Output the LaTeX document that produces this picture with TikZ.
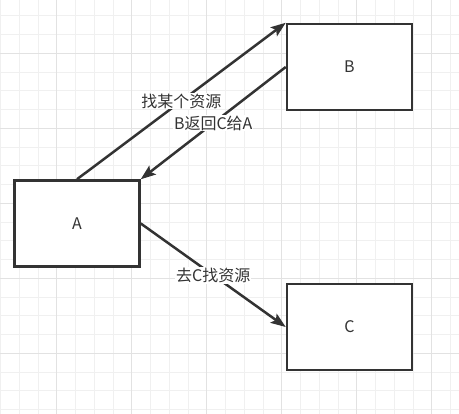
\documentclass[tikz,border=0pt]{standalone}
\usepackage{fontspec}
\setmainfont{Noto Sans CJK SC}
\usetikzlibrary{arrows.meta}
\definecolor{ink}{HTML}{333333}
\definecolor{minorgrid}{HTML}{F0F0F0}
\definecolor{majorgrid}{HTML}{E2E2E2}
\tikzset{
    box/.style={draw=ink, line width=2.5pt, fill=white, minimum width=125pt, minimum height=86pt, text=ink, font=\fontsize{16}{19}\selectfont},
    link/.style={draw=ink, line width=2.5pt, -{Stealth[length=15pt,width=11pt,inset=3pt]}},
    lbl/.style={fill=white, text=ink, inner sep=1pt, font=\fontsize{16}{19}\selectfont}
}
\begin{document}
\begin{tikzpicture}[x=1pt,y=-1pt]
        \useasboundingbox (0,0) rectangle (459,414);
        % background grid
        \begin{scope}[line width=1pt]
            \foreach \k in {0,...,24} {
                \pgfmathsetmacro{\gx}{0.5+18.75*\k}
                \draw[minorgrid] (\gx,0) -- (\gx,414);
            }
            \foreach \k in {0,...,22} {
                \pgfmathsetmacro{\gy}{-2.9+18.75*\k}
                \draw[minorgrid] (0,\gy) -- (459,\gy);
            }
            \foreach \k in {3,7,...,23} {
                \pgfmathsetmacro{\gx}{0.5+18.75*\k}
                \draw[majorgrid] (\gx,0) -- (\gx,414);
            }
            \foreach \k in {3,7,...,19} {
                \pgfmathsetmacro{\gy}{-2.9+18.75*\k}
                \draw[majorgrid] (0,\gy) -- (459,\gy);
            }
        \end{scope}
        \node[box] (A) at (77,223.5) {A};
        \node[box] (B) at (349.5,67) {B};
        \node[box] (C) at (349.5,327) {C};
        \draw[link] (A.north) -- (B.north west) node[lbl,pos=0.5] (ask) {找某个资源};
        \draw[link] (B.west) -- (A.north east) node[lbl,pos=0.5] (back) {B返回C给A};
        \draw[link] (A.east) -- (C.west) node[lbl,pos=0.5] (go) {去C找资源};
    \end{tikzpicture}
\end{document}
